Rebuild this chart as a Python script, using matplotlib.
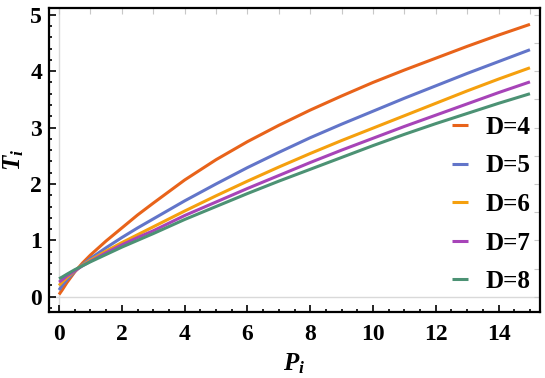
import matplotlib
matplotlib.use("Agg")
import matplotlib.pyplot as plt
from matplotlib.ticker import MultipleLocator

P = [0, 0.1, 0.25, 0.5, 0.75, 1, 1.5, 2, 2.5, 3, 4, 5, 6, 7, 8, 9, 10, 11, 12, 13, 14, 15]
T_D4 = [0.04, 0.12, 0.25, 0.44, 0.60, 0.74, 0.99, 1.22, 1.45, 1.66, 2.07, 2.43, 2.75, 3.04, 3.31, 3.56, 3.80, 4.02, 4.23, 4.44, 4.64, 4.83]
T_D5 = [0.12, 0.20, 0.30, 0.45, 0.57, 0.68, 0.87, 1.05, 1.22, 1.38, 1.70, 2.00, 2.29, 2.56, 2.82, 3.06, 3.29, 3.52, 3.74, 3.96, 4.17, 4.38]
T_D6 = [0.20, 0.26, 0.34, 0.46, 0.56, 0.65, 0.81, 0.96, 1.10, 1.24, 1.52, 1.79, 2.05, 2.30, 2.54, 2.77, 2.99, 3.21, 3.43, 3.65, 3.86, 4.06]
T_D7 = [0.26, 0.30, 0.37, 0.46, 0.55, 0.63, 0.78, 0.92, 1.05, 1.17, 1.44, 1.68, 1.92, 2.15, 2.38, 2.60, 2.81, 3.02, 3.22, 3.42, 3.62, 3.81]
T_D8 = [0.32, 0.35, 0.40, 0.48, 0.55, 0.62, 0.75, 0.88, 1.00, 1.12, 1.37, 1.60, 1.83, 2.05, 2.26, 2.47, 2.68, 2.88, 3.07, 3.25, 3.43, 3.60]

series = [("D=4", T_D4, "#E8631A"), ("D=5", T_D5, "#6275C9"),
          ("D=6", T_D6, "#F5A00E"), ("D=7", T_D7, "#A744B8"),
          ("D=8", T_D8, "#4C9274")]

x_ticks = [0, 2, 4, 6, 8, 10, 12, 14]
y_ticks = [0, 1, 2, 3, 4, 5]

plt.rcParams['font.family'] = ['Liberation Serif', 'DejaVu Serif']
plt.rcParams['font.weight'] = 'bold'
plt.rcParams['mathtext.fontset'] = 'custom'
plt.rcParams['mathtext.it'] = 'Liberation Serif:italic:bold'
plt.rcParams['mathtext.rm'] = 'Liberation Serif:bold'
plt.rcParams['mathtext.bf'] = 'Liberation Serif:bold'
plt.rcParams['mathtext.sf'] = 'Liberation Serif:italic'

fig = plt.figure(figsize=(5.45, 3.78), dpi=100)
ax = fig.add_axes([49/545, 1-312/378, (540-49)/545, (312-8)/378])

ax.axhline(0, color="#d9d9d9", lw=1.0, zorder=0)
ax.axvline(0, color="#d9d9d9", lw=1.0, zorder=0)

for lab, t, c in series:
    ax.plot(P, t, color=c, lw=2.2, label=lab, solid_capstyle='butt')

ax.set_xlim(-0.32, 15.32)
ax.set_ylim(-0.27, 5.12)
ax.set_xticks(x_ticks)
ax.set_yticks(y_ticks)
ax.xaxis.set_minor_locator(MultipleLocator(0.5))
ax.yaxis.set_minor_locator(MultipleLocator(0.2))
ax.tick_params(which='both', direction='in', top=False, right=False,
               labelsize=17, width=1.2, color='black')
ax.tick_params(which='major', length=5)
ax.tick_params(which='minor', length=2.5)
ax.tick_params(axis='x', pad=9)
ax.tick_params(axis='y', pad=5)

secx = ax.secondary_xaxis('top')
secx.set_xticks(list(range(0, 16)))
secx.tick_params(direction='in', length=4, color='#c8c8c8', labeltop=False)
secy = ax.secondary_yaxis('right')
secy.set_yticks([0, 0.5, 1, 1.5, 2, 2.5, 3, 3.5, 4, 4.5, 5])
secy.tick_params(direction='in', length=4, color='#c8c8c8', labelright=False)
for sp in secx.spines.values():
    sp.set_visible(False)
for sp in secy.spines.values():
    sp.set_visible(False)

for sp in ax.spines.values():
    sp.set_linewidth(1.6)
    sp.set_color('black')

ax.set_xlabel(r'$P_{\mathsf{i}}$', fontsize=18, labelpad=4)
ax.set_ylabel(r'$T_{\mathsf{i}}$', fontsize=18, labelpad=3)

leg = ax.legend(loc='upper left', bbox_to_anchor=(403/491, 1-108/304), frameon=False,
                handlelength=0.62, handletextpad=0.7, labelspacing=0.62,
                prop={'family': 'Liberation Serif', 'weight': 'bold', 'size': 18},
                borderaxespad=0, borderpad=0)
for h in leg.get_lines():
    h.set_linewidth(2.2)

fig.savefig("out.png", dpi=100)
